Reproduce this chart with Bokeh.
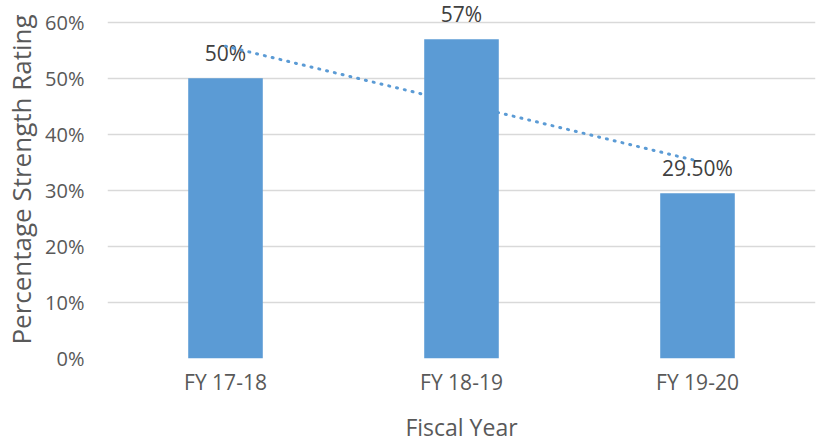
import numpy as np
from bokeh.plotting import figure
from bokeh.models import ColumnDataSource, Range1d, NumeralTickFormatter, FixedTicker
from bokeh.core.properties import value
from bokeh.embed import file_html
from bokeh.resources import INLINE

categories = ["FY 17-18", "FY 18-19", "FY 19-20"]
strength = [0.50, 0.57, 0.295]
labels = ["50%", "57%", "29.50%"]
y_ticks = [0, 0.1, 0.2, 0.3, 0.4, 0.5, 0.6]

# linear trendline fitted to the bar values (as the spreadsheet trendline does)
xi = np.arange(1, len(strength) + 1)
slope, intercept = np.polyfit(xi, strength, 1)
trend = [intercept + slope * xi[0], intercept + slope * xi[-1]]

FONT = "Open Sans"
BAR = "#5B9BD5"

p = figure(x_range=categories, y_range=Range1d(0, 0.639),
           width=817, height=445, output_backend="svg", toolbar_location=None,
           min_border_left=107, min_border_right=2, min_border_top=0, min_border_bottom=87)
p.outline_line_color = None
p.background_fill_color = "white"
p.border_fill_color = "white"

src = ColumnDataSource(dict(cat=categories, val=strength, lab=labels))

# data labels
p.text(x="cat", y="val", text="lab", source=src, text_align="center", text_baseline="alphabetic",
       y_offset=-25, text_font=value(FONT), text_font_size="21px", text_color="#404040")

# trendline (behind bars, over labels)
tsrc = ColumnDataSource(dict(x=[categories[0], categories[-1]], y=trend))
p.line("x", "y", source=tsrc, line_color=BAR, line_width=3, line_dash="1 7", line_cap="round")

p.vbar(x="cat", top="val", width=0.316, source=src, fill_color=BAR, line_color=None)

p.ygrid.ticker = FixedTicker(ticks=y_ticks)
p.ygrid.grid_line_color = "#D9D9D9"
p.ygrid.grid_line_width = 1.5
p.xgrid.grid_line_color = None

p.yaxis.ticker = FixedTicker(ticks=y_ticks)
p.yaxis.formatter = NumeralTickFormatter(format="0%")
p.yaxis.axis_line_color = None
p.yaxis.major_tick_line_color = None
p.yaxis.minor_tick_line_color = None
p.yaxis.major_label_text_font = FONT
p.yaxis.major_label_text_font_size = "20px"
p.yaxis.major_label_text_color = "#595959"
p.yaxis.major_label_standoff = 17
p.yaxis.axis_label = "Percentage Strength Rating"
p.yaxis.axis_label_text_font = FONT
p.yaxis.axis_label_text_font_size = "26px"
p.yaxis.axis_label_text_font_style = "normal"
p.yaxis.axis_label_text_color = "#595959"
p.yaxis.axis_label_standoff = 3

p.xaxis.axis_line_color = None
p.xaxis.major_tick_line_color = None
p.xaxis.minor_tick_line_color = None
p.xaxis.major_label_text_font = FONT
p.xaxis.major_label_text_font_size = "21px"
p.xaxis.major_label_text_color = "#595959"
p.xaxis.major_label_standoff = 3
p.xaxis.axis_label = "Fiscal Year"
p.xaxis.axis_label_text_font = FONT
p.xaxis.axis_label_text_font_size = "23px"
p.xaxis.axis_label_text_font_style = "normal"
p.xaxis.axis_label_text_color = "#595959"
p.xaxis.axis_label_standoff = 12

open("out.html", "w").write(file_html(p, INLINE))
